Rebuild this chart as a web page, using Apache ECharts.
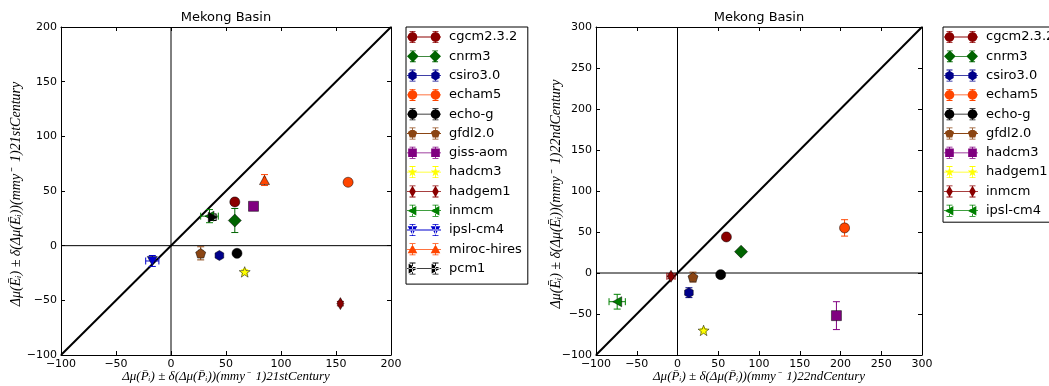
<!DOCTYPE html>
<html><head><meta charset="utf-8">
<script src="https://cdn.jsdelivr.net/npm/echarts@6/dist/echarts.min.js"></script>
<style>html,body{margin:0;padding:0;background:#fff;overflow:hidden}
#c1{position:absolute;left:0;top:0;width:540px;height:386px}
#c2{position:absolute;left:540px;top:0;width:509px;height:386px}</style>
</head><body><div id="c1"></div><div id="c2"></div>
<script>
// ---------- data: 21st century ----------
const models21 = ['cgcm2.3.2','cnrm3','csiro3.0','echam5','echo-g','gfdl2.0','giss-aom','hadcm3','hadgem1','inmcm','ipsl-cm4','miroc-hires','pcm1'];
const dP21   = [58, 58, 44, 161, 60, 27, 75, 67, 154, 35, -17, 85, 38];
const dE21   = [40, 23, -9, 58, -7, -7, 36, -24, -53, 27, -14, 60, 26];
const errP21 = [2, 2, 1, 2, 1, 2, 1, 1, 1, 8, 6, 1, 3];
const errE21 = [3, 11, 1, 3, 1, 6, 2, 2, 2, 6, 5, 5, 3];
// ---------- data: 22nd century ----------
const models22 = ['cgcm2.3.2','cnrm3','csiro3.0','echam5','echo-g','gfdl2.0','hadcm3','hadgem1','inmcm','ipsl-cm4'];
const dP22   = [60, 78, 14, 205, 53, 19, 195, 32, -8, -74];
const dE22   = [44, 26, -24, 55, -2, -5, -52, -70, -4, -35];
const errP22 = [2, 2, 2, 3, 1, 2, 2, 1, 5, 10];
const errE22 = [2, 2, 6, 10, 2, 6, 17, 2, 3, 9];
// axis ticks [min, max, step]
const xTicks21 = [-100, 200, 50];
const yTicks21 = [-100, 200, 50];
const xTicks22 = [-100, 300, 50];
const yTicks22 = [-100, 300, 50];
const titleText = 'Mekong Basin';
const xLabel21 = 'Δμ(P̄ᵢ) ± δ(Δμ(P̄ᵢ))(mmy⁻  1)21stCentury';
const yLabel21 = 'Δμ(Ēᵢ) ± δ(Δμ(Ēᵢ))(mmy⁻  1)21stCentury';
const xLabel22 = 'Δμ(P̄ᵢ) ± δ(Δμ(P̄ᵢ))(mmy⁻  1)22ndCentury';
const yLabel22 = 'Δμ(Ēᵢ) ± δ(Δμ(Ēᵢ))(mmy⁻  1)22ndCentury';

// ---------- styles ----------
const marker21 = ['o','D','h','o','o','p','s','*','d','<','v','^','>'];
const color21 = ['#8b0000','#006400','#00008b','#ff4500','#000000','#8b4513','#800080','#ffff00','#8b0000','#008000','#0000cd','#ff4500','#000000'];
const marker22 = ['o','D','h','o','o','p','s','*','d','<'];
const color22 = ['#8b0000','#006400','#00008b','#ff4500','#000000','#8b4513','#800080','#ffff00','#8b0000','#008000'];

function shapePts(m, cx, cy, r) {
  const pts = [];
  const poly = (n, start, rr) => { for (let i = 0; i < n; i++) { const a = (start + i * 360 / n) * Math.PI / 180; pts.push([cx + rr * Math.cos(a), cy + rr * Math.sin(a)]); } };
  switch (m) {
    case 'o': poly(24, 0, r); break;
    case 'D': pts.push([cx, cy - r*1.25], [cx + r*1.25, cy], [cx, cy + r*1.25], [cx - r*1.25, cy]); break;
    case 'd': pts.push([cx, cy - r*1.2], [cx + r*0.7, cy], [cx, cy + r*1.2], [cx - r*0.7, cy]); break;
    case 's': pts.push([cx - r*0.9, cy - r*0.9], [cx + r*0.9, cy - r*0.9], [cx + r*0.9, cy + r*0.9], [cx - r*0.9, cy + r*0.9]); break;
    case 'h': poly(6, -90, r); break;
    case 'p': poly(5, -90, r); break;
    case '*': for (let i = 0; i < 10; i++) { const a = (-90 + i * 36) * Math.PI / 180; const rr = i % 2 ? r * 0.42 : r*1.05; pts.push([cx + rr * Math.cos(a), cy + rr * Math.sin(a)]); } break;
    case '^': pts.push([cx, cy - r], [cx + r, cy + r*0.8], [cx - r, cy + r*0.8]); break;
    case 'v': pts.push([cx, cy + r], [cx + r, cy - r*0.8], [cx - r, cy - r*0.8]); break;
    case '<': pts.push([cx - r, cy], [cx + r*0.8, cy - r], [cx + r*0.8, cy + r]); break;
    case '>': pts.push([cx + r, cy], [cx - r*0.8, cy - r], [cx - r*0.8, cy + r]); break;
  }
  return 'M' + pts.map(p => p[0].toFixed(2) + ',' + p[1].toFixed(2)).join('L') + 'Z';
}
const markerSize = { o: 10, D: 13, d: 12, s: 10, h: 10, p: 10, '*': 11, '^': 10, v: 10, '<': 10, '>': 10 };
function symbolFor(m) { return 'path://' + shapePts(m, 0, 0, 10); }
function legendIcon(m) {
  let p = 'M0,5.6L34,5.6L34,6.4L0,6.4Z';
  [5.5, 28.5].forEach(cx => {
    p += 'M' + (cx - 0.4) + ',0L' + (cx + 0.4) + ',0L' + (cx + 0.4) + ',12L' + (cx - 0.4) + ',12Z';
    p += 'M' + (cx - 3) + ',0L' + (cx + 3) + ',0L' + (cx + 3) + ',0.8L' + (cx - 3) + ',0.8Z';
    p += 'M' + (cx - 3) + ',11.2L' + (cx + 3) + ',11.2L' + (cx + 3) + ',12L' + (cx - 3) + ',12Z';
    p += shapePts(m, cx, 6, 4.8);
  });
  return 'path://' + p;
}
const uminus = v => v < 0 ? '\u2212' + (-v) : '' + v;

function errRender(params, api) {
  const x = api.value(0), y = api.value(1), ex = api.value(2), ey = api.value(3);
  const col = api.visual('color');
  const cap = 3.5, ch = [];
  const st = { stroke: col, lineWidth: 1 };
  if (ex > 0) {
    const l = api.coord([x - ex, y]), r = api.coord([x + ex, y]);
    ch.push({ type: 'line', shape: { x1: l[0], y1: l[1], x2: r[0], y2: r[1] }, style: st });
    ch.push({ type: 'line', shape: { x1: l[0], y1: l[1] - cap, x2: l[0], y2: l[1] + cap }, style: st });
    ch.push({ type: 'line', shape: { x1: r[0], y1: r[1] - cap, x2: r[0], y2: r[1] + cap }, style: st });
  }
  if (ey > 0) {
    const t = api.coord([x, y + ey]), b = api.coord([x, y - ey]);
    ch.push({ type: 'line', shape: { x1: t[0], y1: t[1], x2: b[0], y2: b[1] }, style: st });
    ch.push({ type: 'line', shape: { x1: t[0] - cap, y1: t[1], x2: t[0] + cap, y2: t[1] }, style: st });
    ch.push({ type: 'line', shape: { x1: b[0] - cap, y1: b[1], x2: b[0] + cap, y2: b[1] }, style: st });
  }
  return { type: 'group', children: ch };
}

function build(el, cfg) {
  const chart = echarts.init(el, null, { renderer: 'canvas' });
  const g = cfg.grid;
  const axCommon = (t, pos, showLabel) => ({
    type: 'value', position: pos, min: t[0], max: t[1], interval: t[2],
    axisLine: { show: true, onZero: false, lineStyle: { color: '#000', width: 1 } },
    axisTick: { show: true, inside: true, length: 4, lineStyle: { color: '#000' } },
    splitLine: { show: false },
    axisLabel: { show: showLabel, formatter: uminus, color: '#000', fontFamily: 'DejaVu Sans', fontSize: 11 }
  });
  const xA0 = axCommon(cfg.xt, 'bottom', true); xA0.axisLabel.margin = 4;
  const yA0 = axCommon(cfg.yt, 'left', true); yA0.axisLabel.margin = 4;
  const series = [];
  series.push({ type: 'line', silent: true, symbol: 'none', data: [[0, cfg.yt[0]], [0, cfg.yt[1]]], lineStyle: { color: '#000', width: 1 }, z: 1, animation: false });
  series.push({ type: 'line', silent: true, symbol: 'none', data: [[cfg.xt[0], 0], [cfg.xt[1], 0]], lineStyle: { color: '#000', width: 1 }, z: 1, animation: false });
  const dmax = Math.min(cfg.xt[1], cfg.yt[1]);
  series.push({ type: 'line', silent: true, symbol: 'none', data: [[-100, -100], [dmax, dmax]], lineStyle: { color: '#000', width: 2 }, z: 1, animation: false });
  cfg.models.forEach((name, i) => {
    const m = cfg.markers[i];
    series.push({
      type: 'scatter', name, data: [[cfg.px[i], cfg.py[i]]],
      symbol: symbolFor(m), symbolKeepAspect: true, symbolSize: markerSize[m],
      itemStyle: { color: cfg.colors[i], borderColor: '#000', borderWidth: 0.5, opacity: 1 },
      z: 4, animation: false
    });
    series.push({
      type: 'custom', name, renderItem: errRender,
      data: [[cfg.px[i], cfg.py[i], cfg.ex[i], cfg.ey[i]]],
      itemStyle: { color: cfg.colors[i] }, z: 3, animation: false, silent: true
    });
  });
  const cxp = g.left + g.width / 2;
  chart.setOption({
    animation: false,
    grid: { left: g.left, top: g.top, width: g.width, height: g.height, containLabel: false },
    xAxis: [xA0, axCommon(cfg.xt, 'top', false)],
    yAxis: [yA0, axCommon(cfg.yt, 'right', false)],
    legend: {
      orient: 'vertical', left: cfg.legLeft, top: 27,
      data: cfg.models.map((n, i) => ({ name: n, icon: legendIcon(cfg.markers[i]) })),
      itemWidth: 34, itemHeight: 12, itemGap: 6.3,
      padding: [3.5, 6, cfg.legPadB, 1], borderColor: '#000', borderWidth: 1, borderRadius: 0,
      backgroundColor: '#fff', selectedMode: false,
      itemStyle: { borderWidth: 0 },
      textStyle: { fontFamily: 'DejaVu Sans', fontSize: 13, color: '#000', padding: [0, 0, 0, 3] }
    },
    graphic: [
      { type: 'text', x: cxp, y: 18, style: { text: titleText, font: '13px "DejaVu Sans"', fill: '#000', textAlign: 'center', textVerticalAlign: 'middle' } },
      { type: 'text', x: cxp, y: 377, style: { text: cfg.xl, font: 'italic 13px "Liberation Serif"', fill: '#000', textAlign: 'center', textVerticalAlign: 'middle' } },
      { type: 'text', x: 16, y: 194, rotation: Math.PI / 2, style: { text: cfg.yl, font: 'italic 14px "Liberation Serif"', fill: '#000', textAlign: 'center', textVerticalAlign: 'middle' } }
    ],
    series
  });
}

build(document.getElementById('c1'), {
  grid: { left: 61, top: 27, width: 330, height: 328 }, legLeft: 406, legPadB: 9,
  xt: xTicks21, yt: yTicks21, models: models21, px: dP21, py: dE21, ex: errP21, ey: errE21,
  markers: marker21, colors: color21, xl: xLabel21, yl: yLabel21
});
build(document.getElementById('c2'), {
  grid: { left: 56, top: 27, width: 326, height: 328 }, legLeft: 403, legPadB: 5,
  xt: xTicks22, yt: yTicks22, models: models22, px: dP22, py: dE22, ex: errP22, ey: errE22,
  markers: marker22, colors: color22, xl: xLabel22, yl: yLabel22
});
</script></body></html>
